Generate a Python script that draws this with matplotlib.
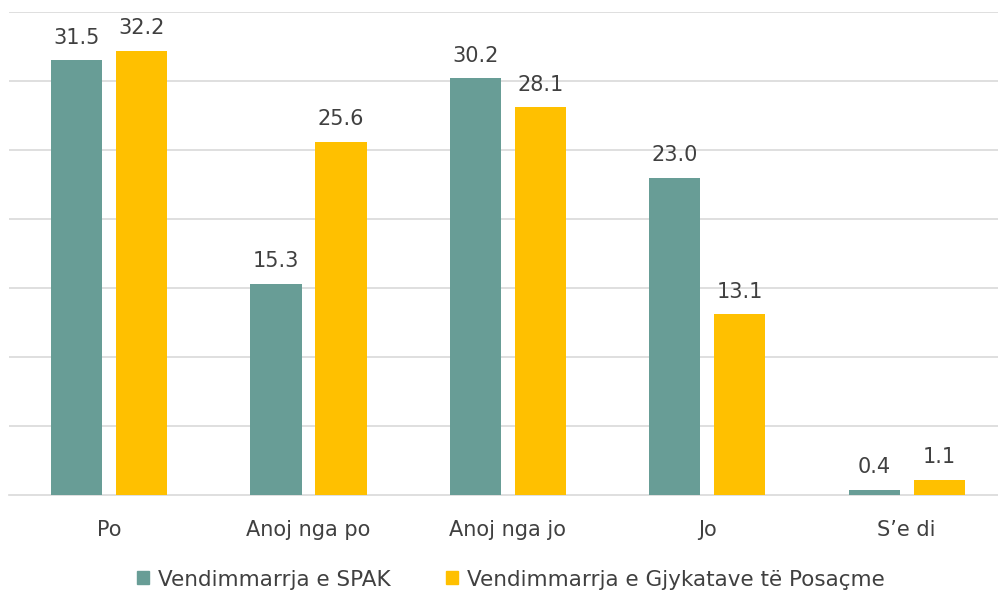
import matplotlib
matplotlib.use("Agg")
import matplotlib.pyplot as plt
import numpy as np
from matplotlib.patches import Patch

categories = ["Po", "Anoj nga po", "Anoj nga jo", "Jo", "S\u2019e di"]
spak = [31.5, 15.3, 30.2, 23.0, 0.4]
gjykata = [32.2, 25.6, 28.1, 13.1, 1.1]
series_names = ["Vendimmarrja e SPAK", "Vendimmarrja e Gjykatave t\u00eb Posa\u00e7me"]

teal = "#689D96"
gold = "#FFC000"
txt = "#404040"

plt.rcParams["font.family"] = ["DejaVu Sans"]

fig = plt.figure(figsize=(9.98, 5.95), dpi=100)
ax = fig.add_axes([0.0094, 0.168, 0.999, 0.812])

x = np.arange(len(categories))
w = 0.256
off = 0.163
b1 = ax.bar(x - off, spak, w, color=teal, zorder=3)
b2 = ax.bar(x + off, gjykata, w, color=gold, zorder=3)

for bars, vals in ((b1, spak), (b2, gjykata)):
    for r, v in zip(bars, vals):
        ax.annotate(f"{v:.1f}", (r.get_x() + r.get_width() / 2, v),
                    xytext=(0, 9), textcoords="offset points",
                    ha="center", va="bottom", fontsize=15, color=txt)

ax.set_xlim(-0.5, len(categories) - 0.5)
ax.set_ylim(0, 35)
ax.set_yticks(np.arange(5, 36, 5))
ax.yaxis.grid(True, color="#D9D9D9", linewidth=1.2, zorder=0)
ax.tick_params(axis="y", left=False, labelleft=False)
ax.tick_params(axis="x", length=0, pad=18, labelsize=15, labelcolor=txt)
ax.set_xticks(x)
ax.set_xticklabels(categories)
for s in ["top", "right", "left"]:
    ax.spines[s].set_visible(False)
ax.spines["bottom"].set_color("#D9D9D9")
ax.spines["bottom"].set_linewidth(1.2)

handles = [Patch(color=teal), Patch(color=gold)]
fig.legend(handles, series_names, loc="center", bbox_to_anchor=(0.512, 0.026),
           ncol=2, frameon=False, fontsize=15.5, labelcolor=txt,
           handlelength=0.55, handleheight=0.55, handletextpad=0.4, columnspacing=2.6)

fig.savefig("out.png", dpi=100)
